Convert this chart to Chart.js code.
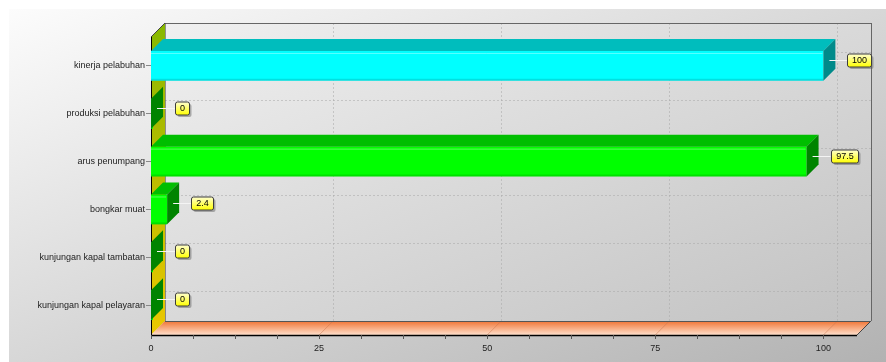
<!DOCTYPE html>
<html>
<head>
<meta charset="utf-8">
<script src="https://cdn.jsdelivr.net/npm/chart.js@4/dist/chart.umd.min.js"></script>
<style>
  html, body { margin: 0; padding: 0; background: #fff; }
  canvas { display: block; }
</style>
</head>
<body>
<canvas id="chart" width="886" height="362"></canvas>
<script>
'use strict';

// data
const categories = ['kinerja pelabuhan', 'produksi pelabuhan', 'arus penumpang', 'bongkar muat', 'kunjungan kapal tambatan', 'kunjungan kapal pelayaran'];
const values = [100, 0, 97.5, 2.4, 0, 0];
const xTicks = [0, 25, 50, 75, 100];

// face colours per bar: front, top, side
const frontColors = ['#00FFFF', '#00FF00', '#00FF00', '#00FF00', '#00FF00', '#00FF00'];
const topColors = ['#00BDBD', '#00BE00', '#00BE00', '#00BE00', '#00BE00', '#00BE00'];
const sideColors = ['#008A8A', '#008400', '#008400', '#008400', '#008400', '#008400'];

const FONT = { family: '"Liberation Sans", Arial, sans-serif', size: 9 };
const D = 14;   // wall depth
const BD = 12;  // bar depth

function poly(ctx, pts, fill) {
  ctx.beginPath();
  ctx.moveTo(pts[0][0], pts[0][1]);
  for (let i = 1; i < pts.length; i++) ctx.lineTo(pts[i][0], pts[i][1]);
  ctx.closePath();
  ctx.fillStyle = fill;
  ctx.fill();
}

function line(ctx, x1, y1, x2, y2, color, w) {
  ctx.beginPath();
  ctx.moveTo(x1, y1);
  ctx.lineTo(x2, y2);
  ctx.strokeStyle = color;
  ctx.lineWidth = w || 1;
  ctx.stroke();
}

// gradient running corner to corner of a box, like a unit square one
function diagGrad(ctx, x, y, w, h, c0, c1) {
  const c = 2 * w * h / (w * w + h * h);
  const g = ctx.createLinearGradient(x, y, x + c * h, y + c * w);
  g.addColorStop(0, c0);
  g.addColorStop(1, c1);
  return g;
}

const box3d = {
  id: 'box3d',
  beforeDraw(chart) {
    const ctx = chart.ctx;
    const a = chart.chartArea;
    const xs = chart.scales.x, ys = chart.scales.y;
    const W = chart.width, H = chart.height;
    ctx.save();
    ctx.fillStyle = '#fff';
    ctx.fillRect(0, 0, W, H);
    ctx.fillStyle = diagGrad(ctx, 9, 9, W - 9, H - 9, '#fcfcfc', '#b2b2b2');
    ctx.fillRect(9, 9, W - 9, H - 9);

    const L = xs.getPixelForValue(0), R = a.right;
    const T = a.top - 5, B = a.bottom + 6;

    // back wall
    ctx.fillStyle = diagGrad(ctx, L + D, T - D, R - L, B - T, '#f0f0f0', '#c2c2c2');
    ctx.fillRect(L + D, T - D, R - L, B - T);

    // grid on back wall
    ctx.setLineDash([2, 2]);
    const gc = 'rgba(170,170,170,0.55)';
    xTicks.forEach(v => {
      if (v === 0) return;
      const x = Math.round(xs.getPixelForValue(v)) + D;
      line(ctx, x + 0.5, T - D, x + 0.5, B - D, gc);
    });
    categories.forEach((c, i) => {
      const y = Math.round(ys.getPixelForValue(i)) - D + 0.5;
      line(ctx, L + D, y, R + D, y, gc);
    });
    ctx.setLineDash([]);

    // left wall
    let g = ctx.createLinearGradient(0, T - D, 0, B);
    g.addColorStop(0, '#86b800');
    g.addColorStop(0.5, '#bcbc00');
    g.addColorStop(1, '#ecc800');
    poly(ctx, [[L, T], [L + D, T - D], [L + D, B - D], [L, B]], g);

    // floor
    g = ctx.createLinearGradient(0, B - D, 0, B);
    g.addColorStop(0, '#f07434');
    g.addColorStop(1, '#ffe0cc');
    poly(ctx, [[L, B], [L + D, B - D], [R + D, B - D], [R, B]], g);
    xTicks.forEach(v => {
      if (v === 0) return;
      const x = xs.getPixelForValue(v);
      line(ctx, x + D, B - D, x, B, 'rgba(200,120,80,0.5)');
    });

    // edges
    line(ctx, L + D, T - D + 0.5, R + D, T - D + 0.5, '#666');
    line(ctx, R + D + 0.5, T - D, R + D + 0.5, B - D, '#666');
    line(ctx, R + D, B - D, R, B, '#444');
    line(ctx, L, T, L + D, T - D, '#444');
    line(ctx, L + D + 0.5, T - D, L + D + 0.5, B - D, 'rgba(80,80,80,0.6)');
    line(ctx, L + D, B - D + 0.5, R + D, B - D + 0.5, '#555');
    line(ctx, L + 0.5, T, L + 0.5, B, '#000');
    line(ctx, L, B + 0.5, R, B + 0.5, '#000', 1.5);

    // minor ticks under the floor
    for (let v = 0; v <= 105; v += 6.25) {
      const x = Math.round(xs.getPixelForValue(v)) + 0.5;
      line(ctx, x, B, x, B + 4, '#555');
    }
    ctx.restore();
  },
  afterDatasetsDraw(chart) {
    const ctx = chart.ctx;
    const meta = chart.getDatasetMeta(0);
    ctx.save();
    meta.data.forEach((bar, i) => {
      const p = bar.getProps(['x', 'y', 'base', 'height'], true);
      const top = p.y - p.height / 2, bot = p.y + p.height / 2;
      const x0 = p.base, x1 = Math.max(p.x, p.base);
      if (x1 - x0 < 2) {
        ctx.fillStyle = frontColors[i];
        ctx.fillRect(x0, top, 2, p.height);
      }
      poly(ctx, [[x0, top], [x0 + BD, top - BD], [x1 + BD, top - BD], [x1, top]], topColors[i]);
      poly(ctx, [[x1, top], [x1 + BD, top - BD], [x1 + BD, bot - BD], [x1, bot]], sideColors[i]);
      if (x1 - x0 > 4) {
        line(ctx, x0, top + 2.5, x1 - 1, top + 2.5, 'rgba(255,255,255,0.35)');
        line(ctx, x0, bot - 1, x1, bot - 1, 'rgba(0,0,0,0.12)', 2);
      }
    });

    // value labels
    ctx.font = FONT.size + 'px ' + FONT.family;
    ctx.textBaseline = 'middle';
    ctx.textAlign = 'center';
    meta.data.forEach((bar, i) => {
      const p = bar.getProps(['x', 'y'], true);
      const lx = p.x + 6, ly = Math.round(p.y - 6) + 0.5;
      line(ctx, lx, ly, lx + 18, ly, '#f4f4f4');
      const txt = String(values[i]);
      const w = Math.round(ctx.measureText(txt).width) + 9, h = 13;
      const bx = Math.round(lx + 18) + 0.5, by = Math.round(ly - h / 2);
      ctx.fillStyle = 'rgba(90,90,90,0.45)';
      ctx.beginPath();
      ctx.roundRect(bx + 2, by + 2, w, h, 2);
      ctx.fill();
      const g = ctx.createLinearGradient(0, by, 0, by + h);
      g.addColorStop(0, '#ffffd0');
      g.addColorStop(1, '#ffff00');
      ctx.fillStyle = g;
      ctx.beginPath();
      ctx.roundRect(bx, by, w, h, 2);
      ctx.fill();
      ctx.strokeStyle = '#3c3c3c';
      ctx.lineWidth = 1;
      ctx.stroke();
      ctx.fillStyle = '#000';
      ctx.fillText(txt, bx + w / 2, by + h / 2 + 0.5);
    });
    ctx.restore();
  }
};

const ctxC = document.getElementById('chart').getContext('2d');
const chart = new Chart(ctxC, {
  type: 'bar',
  data: {
    labels: categories,
    datasets: [{
      data: values,
      backgroundColor: frontColors,
      borderWidth: 0,
      barPercentage: 0.625,
      categoryPercentage: 1
    }]
  },
  options: {
    indexAxis: 'y',
    responsive: false,
    animation: false,
    devicePixelRatio: 1,
    layout: { padding: { left: 0, right: 29, top: 42, bottom: 0 } },
    plugins: {
      legend: { display: false },
      tooltip: { enabled: false }
    },
    scales: {
      x: {
        type: 'linear',
        min: 0,
        max: 105,
        afterBuildTicks: scale => { scale.ticks = xTicks.map(v => ({ value: v })); },
        afterFit: scale => { scale.height = 33; },
        grid: { display: false },
        border: { display: false },
        ticks: { font: FONT, color: '#222', padding: 6, maxRotation: 0 }
      },
      y: {
        offset: true,
        afterFit: scale => { scale.width = 151; },
        grid: { display: true, drawOnChartArea: false, offset: false, tickLength: 5, color: '#888' },
        border: { display: false },
        ticks: { font: FONT, color: '#222', padding: 1 }
      }
    }
  },
  plugins: [box3d]
});
</script>
</body>
</html>
